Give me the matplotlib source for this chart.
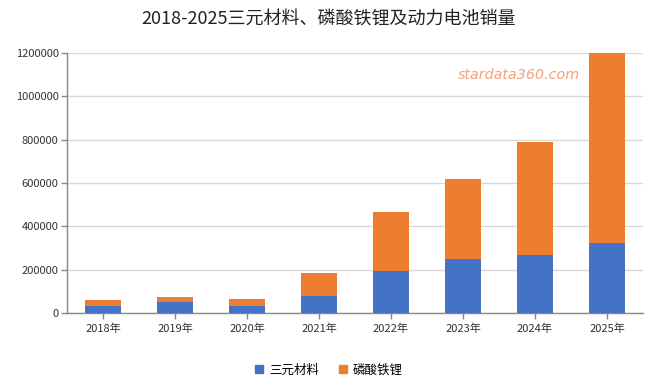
import matplotlib
matplotlib.use("Agg")
import matplotlib.pyplot as plt
from matplotlib.patches import Patch

plt.rcParams['font.family'] = ['Noto Sans CJK SC', 'DejaVu Sans']

years = ["2018年", "2019年", "2020年", "2021年", "2022年", "2023年", "2024年", "2025年"]
ternary = [33700, 52000, 33700, 80000, 193800, 250600, 266000, 323000]
totals = [60000, 72400, 64600, 184600, 466000, 616600, 790600, 1200000]
lfp = [t - a for t, a in zip(totals, ternary)]
series_names = ["三元材料", "磷酸铁锂"]
colors = ["#4472C4", "#ED7D31"]

fig = plt.figure(figsize=(6.58, 3.87), dpi=100)
ax = fig.add_axes([67/658, 1 - 313/387, (643 - 67)/658, (313 - 53)/387])

x = list(range(len(years)))
ax.bar(x, ternary, width=0.49, color=colors[0], zorder=3)
ax.bar(x, lfp, bottom=ternary, width=0.49, color=colors[1], zorder=3)

ax.set_xlim(-0.5, len(years) - 0.5)
ax.set_ylim(0, 1200000)
ax.set_yticks(range(0, 1200001, 200000))
ax.set_yticklabels([str(v) for v in range(0, 1200001, 200000)])
ax.set_xticks(x)
ax.set_xticklabels(years)
ax.yaxis.grid(True, color="#D9D9D9", linewidth=1, zorder=0)
ax.set_axisbelow(True)
for s in ["top", "right"]:
    ax.spines[s].set_visible(False)
for s in ["left", "bottom"]:
    ax.spines[s].set_color("#888888")
    ax.spines[s].set_linewidth(1)
ax.tick_params(axis="both", labelsize=8, colors="#888888", labelcolor="#333333", length=4, width=1)
ax.tick_params(axis="y", pad=2)

fig.text(0.5, 0.953, "2018-2025三元材料、磷酸铁锂及动力电池销量", ha="center", va="center",
         fontsize=13, color="#222222")
ax.text(0.785, 0.915, "stardata360.com", transform=ax.transAxes, ha="center", va="center",
        fontsize=10.3, color="#F4A07A", style="italic", family=["DejaVu Sans"])

handles = [Patch(color=c, label=n) for c, n in zip(colors, series_names)]
fig.legend(handles=handles, loc="center", bbox_to_anchor=(0.5, 1 - 370/387),
           ncol=2, frameon=False, fontsize=9, handlelength=0.6, handleheight=0.6,
           columnspacing=1.6, handletextpad=0.5)

fig.savefig("out.png", dpi=100)
